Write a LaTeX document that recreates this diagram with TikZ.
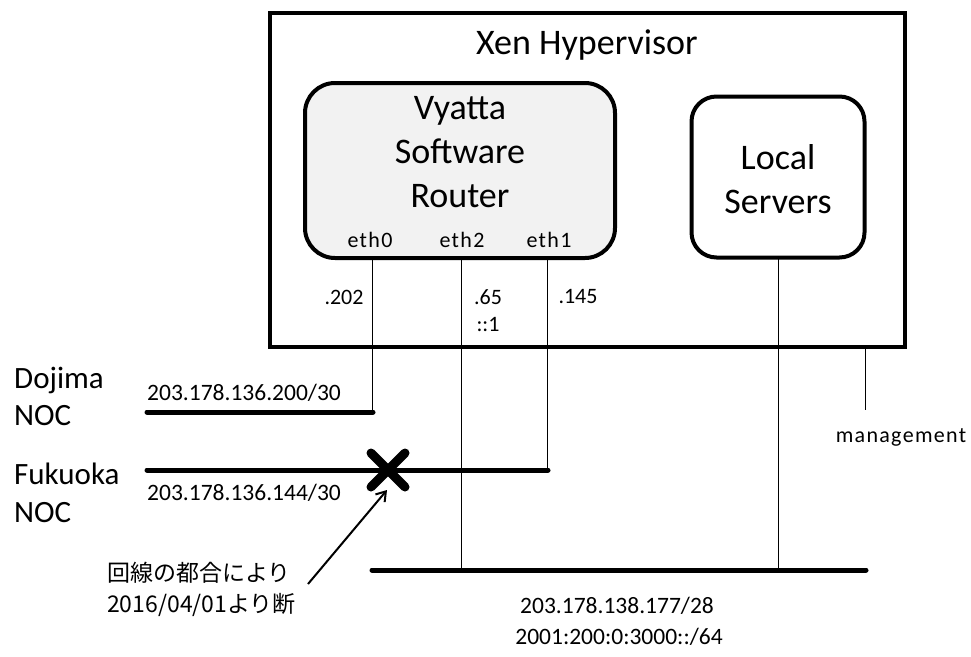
\documentclass[tikz,border=0pt]{standalone}
\usepackage{fontspec}
\setmainfont{Carlito}
\newfontfamily\jpfont{Noto Sans CJK JP}
\newfontfamily\widefont[LetterSpace=6]{Carlito}
\usetikzlibrary{arrows.meta,calc}
\begin{document}
\begin{tikzpicture}[x=1pt,y=-1pt,
  box/.style={draw,line width=4pt,inner sep=0pt},
  bus/.style={line width=5pt,line cap=round},
  wire/.style={line width=1pt},
  big/.style={font=\fontsize{36}{44}\selectfont,inner sep=0pt},
  mid/.style={font=\fontsize{31}{36}\selectfont,inner sep=0pt},
  small/.style={font=\fontsize{22}{28}\selectfont,inner sep=0pt},
  wide/.style={font=\widefont\fontsize{22}{28}\selectfont,inner sep=0pt},
  addr/.style={font=\fontsize{23.5}{28}\selectfont,inner sep=0pt},
  jp/.style={font=\jpfont\fontsize{23}{28}\selectfont,inner sep=0pt}]
\useasboundingbox (0,0) rectangle (971,656);
% boxes
\node[box,minimum width=635.5pt,minimum height=334pt] (xen) at (587.25,179.6) {};
\node[big] (xent) at (587,45) {Xen Hypervisor};
\node[box,rounded corners=30pt,fill=black!5,minimum width=310pt,minimum height=175pt] (vy) at (460,170.5) {};
\node[big,align=center] (vyt) at (460,152) {Vyatta\\Software\\Router};
\node[box,rounded corners=25pt,minimum width=173pt,minimum height=161pt] (loc) at (778,177) {};
\node[big,align=center] (loct) at (778,179) {Local\\Servers};
% interface labels
\node[wide] (eth0) at (370,240) {eth0};
\node[wide] (eth2) at (462,240) {eth2};
\node[wide] (eth1) at (549,240) {eth1};
\node[small] (a202) at (344,297) {.202};
\node[small] (a65) at (488,297) {.65};
\node[small] (a1) at (488,325) {::1};
\node[small] (a145) at (578,297) {.145};
% coordinates
\coordinate (e0) at (372,258);
\coordinate (e2) at (461,258);
\coordinate (e1) at (547,258);
\coordinate (ls) at (778,258);
\coordinate (mg) at (865,348);
\coordinate (mgend) at (865,410);
\coordinate (dL) at (147,412);
\coordinate (dR) at (373,412);
\coordinate (fL) at (147,470);
\coordinate (fR) at (548,470);
\coordinate (bL) at (372,570);
\coordinate (bR) at (866,570);
% buses
\draw[bus] (dL) -- (dR);
\draw[bus] (fL) -- (fR);
\draw[bus] (bL) -- (bR);
% wires
\draw[wire] (e0) -- (e0 |- dR);
\draw[wire] (e2) -- (e2 |- bL);
\draw[wire] (e1) -- (e1 |- fR);
\draw[wire] (ls) -- (ls |- bL);
\draw[wire] (mg) -- (mgend);
% site labels
\node[mid,anchor=west] (doj) at (14,380) {Dojima};
\node[mid,anchor=west] (dnoc) at (14,416) {NOC};
\node[mid,anchor=west] (fuk) at (14,474) {Fukuoka};
\node[mid,anchor=west] (fnoc) at (14,513) {NOC};
\node[addr] (dnet) at (244,393) {203.178.136.200/30};
\node[addr] (fnet) at (244,493) {203.178.136.144/30};
\node[addr] (bnet4) at (617,606) {203.178.138.177/28};
\node[addr] (bnet6) at (619,637) {2001:200:0:3000::/64};
\node[wide] (mgt) at (901,437) {management};
% cut mark
\coordinate (xc) at (388,470);
\draw[line width=9pt,line cap=round] ($(xc)+(-17,-17)$) -- ($(xc)+(17,17)$);
\draw[line width=9pt,line cap=round] ($(xc)+(17,-17)$) -- ($(xc)+(-17,17)$);
% note
\node[jp,anchor=west] (n1) at (107,573) {回線の都合により};
\node[jp,anchor=west] (n2) at (107,605) {2016/04/01より断};
\coordinate (as) at (308,584);
\coordinate (ae) at (387,490);
\draw[line width=2pt,-{Straight Barb[length=9pt,width=12pt]}] (as) -- (ae);
\end{tikzpicture}
\end{document}
